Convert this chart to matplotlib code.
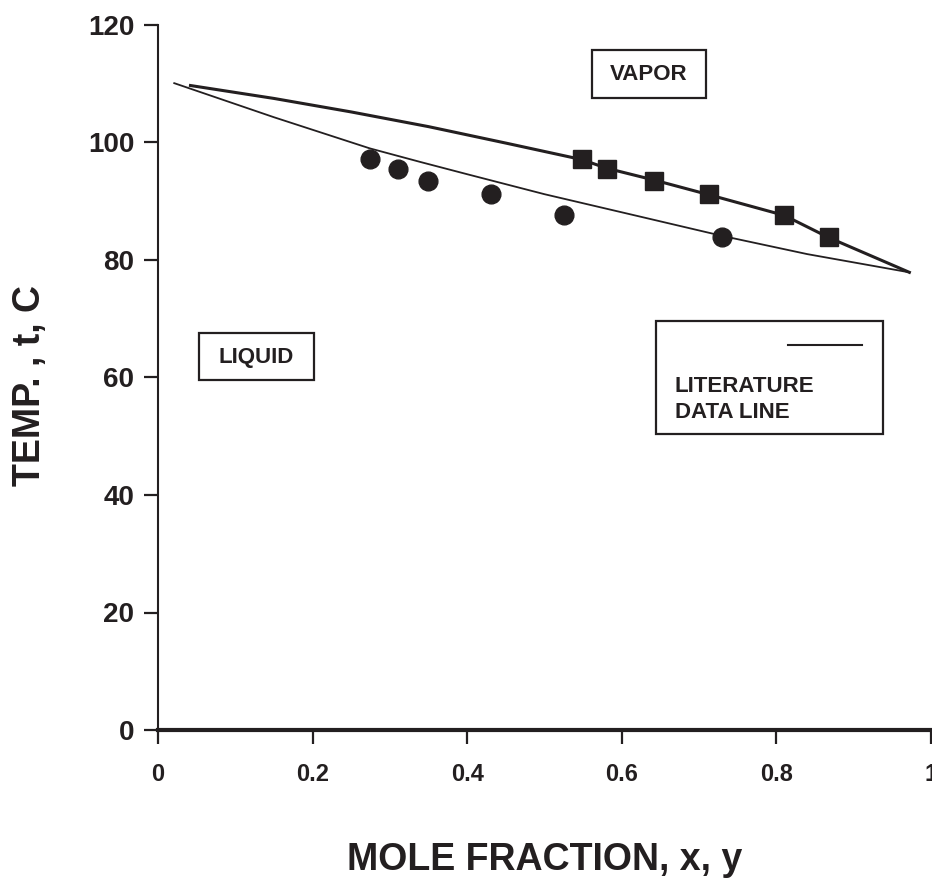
import matplotlib
matplotlib.use("Agg")
import matplotlib.pyplot as plt
from matplotlib.patches import Rectangle

plt.rcParams['font.family'] = ['Liberation Sans', 'DejaVu Sans']
plt.rcParams['font.weight'] = 'bold'

INK = '#231f20'

# measured points (temperature is shared by liquid / vapor pairs)
temp = [97.2, 95.5, 93.5, 91.2, 87.6, 83.9]
x_liquid = [0.274, 0.310, 0.349, 0.431, 0.525, 0.730]
y_vapor = [0.548, 0.581, 0.642, 0.713, 0.810, 0.868]

# literature curves
lit_liq_x = [0.021, 0.15, 0.274, 0.339, 0.40, 0.50, 0.62, 0.73, 0.84, 0.972]
lit_liq_t = [110.1, 104.3, 99.0, 96.7, 94.6, 91.2, 87.5, 84.1, 81.0, 77.9]
lit_vap_x = [0.042, 0.15, 0.25, 0.35, 0.45, 0.548, 0.581, 0.642, 0.713, 0.810, 0.868, 0.972]
lit_vap_t = [109.7, 107.5, 105.2, 102.7, 99.9, 97.1, 95.6, 93.6, 91.1, 87.6, 83.8, 77.9]

x_ticks = [0, 0.2, 0.4, 0.6, 0.8, 1]
x_ticklabels = ['0', '0.2', '0.4', '0.6', '0.8', '1']
y_ticks = [0, 20, 40, 60, 80, 100, 120]

W, H = 932, 884
fig = plt.figure(figsize=(W / 100, H / 100), dpi=100)
ax = fig.add_axes([158 / W, 1 - 730 / H, 773 / W, 705 / H])

ax.plot(lit_liq_x, lit_liq_t, color=INK, lw=1.3)
ax.plot(lit_vap_x, lit_vap_t, color=INK, lw=2.2)
ax.plot(x_liquid, temp, 'o', color=INK, ms=13.5, ls='none')
ax.plot(y_vapor, temp, 's', color=INK, ms=13, ls='none')

ax.set_xlim(0, 1)
ax.set_ylim(0, 120)
ax.set_xticks(x_ticks)
ax.set_xticklabels(x_ticklabels)
ax.set_yticks(y_ticks)

for s in ['top', 'right']:
    ax.spines[s].set_visible(False)
ax.spines['left'].set_linewidth(1.5)
ax.spines['bottom'].set_linewidth(3)
for s in ['left', 'bottom']:
    ax.spines[s].set_color(INK)
ax.tick_params(axis='both', direction='out', length=10, width=1.6, colors=INK)
ax.tick_params(axis='y', labelsize=20, pad=7)
ax.tick_params(axis='x', labelsize=17, pad=14)
for lab in ax.get_xticklabels() + ax.get_yticklabels():
    lab.set_fontweight('bold')

# axis titles
fig.text(545 / W, 1 - 860 / H, 'MOLE FRACTION, x, y', ha='center', va='center',
         fontsize=27, fontweight='bold', color=INK)
fig.text(30 / W, 1 - 385 / H, 'TEMP. , t, C', ha='center', va='center',
         rotation=90, fontsize=27, fontweight='bold', color=INK)

# region boxes
def box(x0, y0, x1, y1):
    fig.patches.append(Rectangle((x0 / W, 1 - y1 / H), (x1 - x0) / W, (y1 - y0) / H,
                                 transform=fig.transFigure, fill=False,
                                 edgecolor=INK, lw=1.6))

box(592, 50, 706, 98)
fig.text(649 / W, 1 - 75 / H, 'VAPOR', ha='center', va='center',
         fontsize=16, fontweight='bold', color=INK)
box(199, 333, 314, 380)
fig.text(256.5 / W, 1 - 357 / H, 'LIQUID', ha='center', va='center',
         fontsize=16, fontweight='bold', color=INK)

# legend box
box(656, 321, 883, 434)
fig.lines.append(plt.Line2D([788 / W, 862 / W], [1 - 345 / H, 1 - 345 / H],
                            transform=fig.transFigure, color=INK, lw=1.5))
fig.text(675 / W, 1 - 386 / H, 'LITERATURE', ha='left', va='center',
         fontsize=16, fontweight='bold', color=INK)
fig.text(675 / W, 1 - 413 / H, 'DATA LINE', ha='left', va='center',
         fontsize=16, fontweight='bold', color=INK)

fig.savefig('out.png', dpi=100)
